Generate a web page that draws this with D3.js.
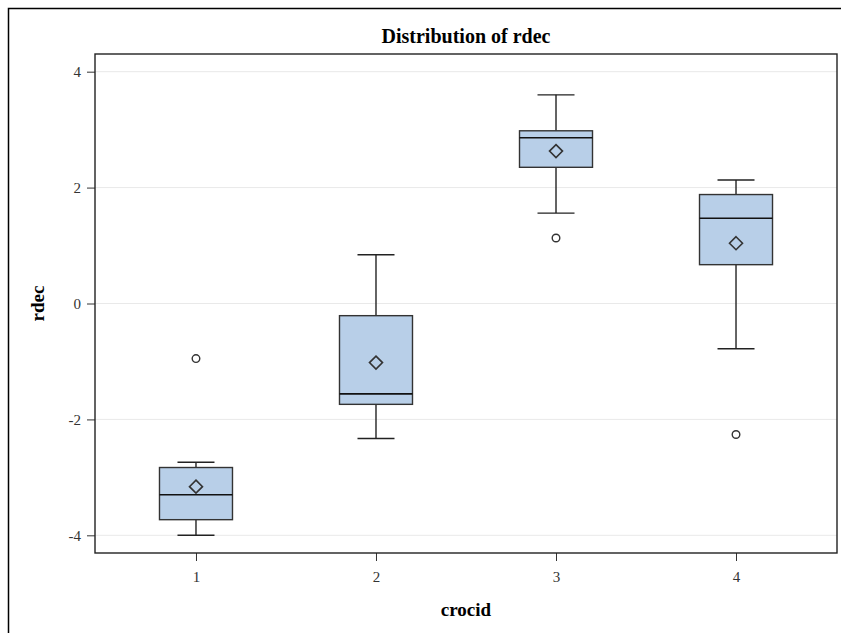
<!DOCTYPE html>
<html>
<head>
<meta charset="utf-8">
<script src="https://cdn.jsdelivr.net/npm/d3@7"></script>
<style>
  html, body { margin: 0; padding: 0; background: #fff; }
  svg { display: block; }
</style>
</head>
<body>
<svg id="chart" width="841" height="633"></svg>
<script>
// ---- data ----
const categories = ["1", "2", "3", "4"];
const whiskerLow  = [-4.00, -2.33, 1.56, -0.78];
const q1          = [-3.73, -1.74, 2.35, 0.67];
const median      = [-3.30, -1.56, 2.86, 1.47];
const q3          = [-2.83, -0.21, 2.98, 1.88];
const whiskerHigh = [-2.74, 0.84, 3.60, 2.13];
const means       = [-3.16, -1.02, 2.63, 1.04];
const outliers    = [[-0.95], [], [1.13], [-2.26]];
const yTicks = [-4, -2, 0, 2, 4];

const title = "Distribution of rdec";
const xLabel = "crocid";
const yLabel = "rdec";

// ---- layout ----
const svg = d3.select("#chart");
const L = 95, R = 837, T = 54, B = 553;
const fillColor = "#b8cfe8";
const strokeColor = "#333333";
const serif = "'Liberation Serif', 'Times New Roman', serif";

// outer frame (clipped on right/bottom like the reference)
svg.append("rect")
  .attr("x", 8.5).attr("y", 8.5)
  .attr("width", 900).attr("height", 900)
  .attr("fill", "none").attr("stroke", "#000").attr("stroke-width", 1.5);

const x = d3.scalePoint().domain(categories).range([L, R]).padding(0.561);
const y = d3.scaleLinear().domain([-4.305, 4.305]).range([B, T]);

// gridlines
svg.append("g").selectAll("line").data(yTicks).join("line")
  .attr("x1", L).attr("x2", R)
  .attr("y1", d => y(d)).attr("y2", d => y(d))
  .attr("stroke", "#e9e9e9").attr("stroke-width", 1);

// axes
const yAxis = svg.append("g").attr("transform", `translate(${L},0)`)
  .call(d3.axisLeft(y).tickValues(yTicks).tickSize(8).tickPadding(6).tickFormat(d3.format("d")));
const xAxis = svg.append("g").attr("transform", `translate(0,${B})`)
  .call(d3.axisBottom(x).tickSize(8).tickPadding(10));
[xAxis, yAxis].forEach(a => {
  a.attr("font-family", serif).attr("font-size", 15);
  a.select(".domain").remove();
  a.selectAll(".tick line").attr("stroke", "#333");
  a.selectAll(".tick text").attr("fill", "#333");
});
yAxis.selectAll(".tick text").text(d => d < 0 ? "-" + Math.abs(d) : d);

// boxes
const boxW = 73, capW = 37;
const g = svg.append("g");
categories.forEach((c, i) => {
  const cx = x(c);
  // whiskers
  g.append("line").attr("x1", cx).attr("x2", cx)
    .attr("y1", y(q3[i])).attr("y2", y(whiskerHigh[i]))
    .attr("stroke", "#222").attr("stroke-width", 1.4);
  g.append("line").attr("x1", cx).attr("x2", cx)
    .attr("y1", y(q1[i])).attr("y2", y(whiskerLow[i]))
    .attr("stroke", "#222").attr("stroke-width", 1.4);
  [whiskerHigh[i], whiskerLow[i]].forEach(v => {
    g.append("line").attr("x1", cx - capW / 2).attr("x2", cx + capW / 2)
      .attr("y1", y(v)).attr("y2", y(v))
      .attr("stroke", "#222").attr("stroke-width", 1.4);
  });
  // box
  g.append("rect")
    .attr("x", cx - boxW / 2).attr("width", boxW)
    .attr("y", y(q3[i])).attr("height", y(q1[i]) - y(q3[i]))
    .attr("fill", fillColor).attr("stroke", strokeColor).attr("stroke-width", 1.4);
  // median
  g.append("line").attr("x1", cx - boxW / 2).attr("x2", cx + boxW / 2)
    .attr("y1", y(median[i])).attr("y2", y(median[i]))
    .attr("stroke", "#111").attr("stroke-width", 1.6);
  // mean diamond
  const my = y(means[i]), r = 6.5;
  g.append("path")
    .attr("d", `M${cx},${my - r}L${cx + r},${my}L${cx},${my + r}L${cx - r},${my}Z`)
    .attr("fill", fillColor).attr("stroke", "#333").attr("stroke-width", 1.6);
  // outliers
  outliers[i].forEach(v => {
    g.append("circle").attr("cx", cx).attr("cy", y(v)).attr("r", 3.8)
      .attr("fill", "#fff").attr("stroke", "#333").attr("stroke-width", 1.4);
  });
});

// plot frame
svg.append("rect").attr("x", L).attr("y", T).attr("width", R - L).attr("height", B - T)
  .attr("fill", "none").attr("stroke", "#222").attr("stroke-width", 1.4);

// texts
svg.append("text").attr("x", (L + R) / 2).attr("y", 43).attr("text-anchor", "middle")
  .style("font-family", serif).style("font-size", "20px").style("font-weight", "bold")
  .text(title);
svg.append("text").attr("x", (L + R) / 2).attr("y", 616).attr("text-anchor", "middle")
  .style("font-family", serif).style("font-size", "19px").style("font-weight", "bold")
  .text(xLabel);
svg.append("text").attr("transform", `translate(44,${(T + B) / 2}) rotate(-90)`)
  .attr("text-anchor", "middle")
  .style("font-family", serif).style("font-size", "19px").style("font-weight", "bold")
  .text(yLabel);
</script>
</body>
</html>
